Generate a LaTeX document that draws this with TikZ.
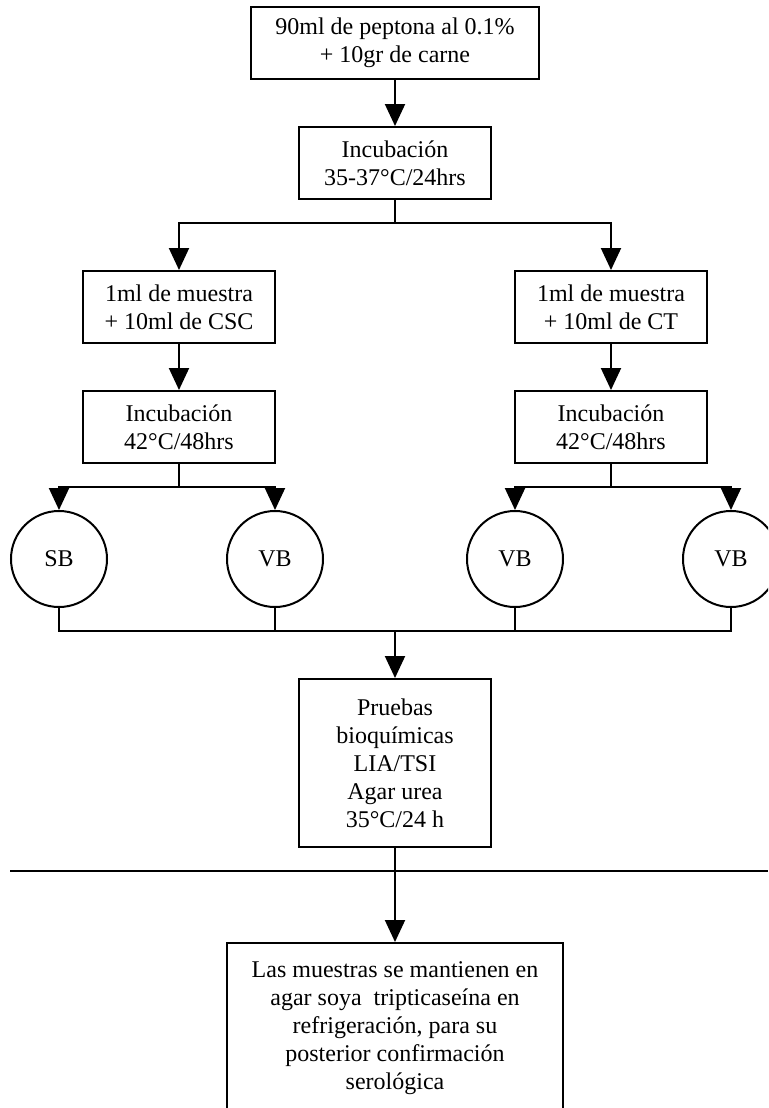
\documentclass[tikz,border=0pt]{standalone}
\usepackage{fontspec}
\setmainfont{Liberation Serif}
\usetikzlibrary{arrows.meta}
\begin{document}
\begin{tikzpicture}[x=0.5pt,y=-0.5pt,
  every node/.style={font=\fontsize{12pt}{14pt}\selectfont, align=center},
  box/.style={draw, line width=1pt, rectangle, inner sep=0pt},
  circ/.style={draw, line width=1pt, circle, minimum size=48pt, inner sep=0pt},
  ln/.style={line width=1pt},
  arr/.style={line width=1pt, -{Triangle[width=10pt,length=11pt]}}]
\useasboundingbox (0,0) rectangle (768,1108);
\clip (0,0) rectangle (768,1108);
% boxes
\node[box, minimum width=144pt, minimum height=36pt] (b1) at (395,43) {90ml de peptona al 0.1\%\\+ 10gr de carne};
\node[box, minimum width=96pt, minimum height=36pt] (b2) at (395,163) {Incubación\\35-37°C/24hrs};
\node[box, minimum width=96pt, minimum height=36pt] (b3l) at (179,307) {1ml de muestra\\+ 10ml de CSC};
\node[box, minimum width=96pt, minimum height=36pt] (b3r) at (611,307) {1ml de muestra\\+ 10ml de CT};
\node[box, minimum width=96pt, minimum height=36pt] (b4l) at (179,427) {Incubación\\42°C/48hrs};
\node[box, minimum width=96pt, minimum height=36pt] (b4r) at (611,427) {Incubación\\42°C/48hrs};
\node[circ] (c1) at (59,559) {SB};
\node[circ] (c2) at (275,559) {VB};
\node[circ] (c3) at (515,559) {VB};
\node[circ] (c4) at (731,559) {VB};
\node[box, minimum width=96pt, minimum height=84pt] (b5) at (395,763) {Pruebas\\bioquímicas\\LIA/TSI\\Agar urea\\35°C/24 h};
\node[box, minimum width=168pt, minimum height=97pt] (b6) at (395,1040) {Las muestras se mantienen en\\agar soya\ \ tripticaseína en\\refrigeración, para su\\posterior confirmación\\serológica\\\mbox{}};
% coordinates
\coordinate (s1) at (395,223);
\coordinate (s2) at (179,487);
\coordinate (s3) at (611,487);
\coordinate (m) at (395,631);
\coordinate (hl) at (10,871);
\coordinate (hr) at (768,871);
% connectors
\draw[arr] (b1.south) -- (b2.north);
\draw[ln] (b2.south) -- (s1);
\draw[arr] (s1) -| (b3l.north);
\draw[arr] (s1) -| (b3r.north);
\draw[arr] (b3l) -- (b4l);
\draw[arr] (b3r) -- (b4r);
\draw[ln] (b4l.south) -- (s2);
\draw[ln] (b4r.south) -- (s3);
\draw[arr] (s2) -| (c1.north);
\draw[arr] (s2) -| (c2.north);
\draw[arr] (s3) -| (c3.north);
\draw[arr] (s3) -| (c4.north);
\draw[ln] (c1.south) |- (m) -| (c4.south);
\draw[ln] (c2.south) -- (c2.south |- m);
\draw[ln] (c3.south) -- (c3.south |- m);
\draw[arr] (m) -- (b5.north);
\draw[ln] (hl) -- (hr);
\draw[arr] (b5) -- (b6);
\end{tikzpicture}
\end{document}
